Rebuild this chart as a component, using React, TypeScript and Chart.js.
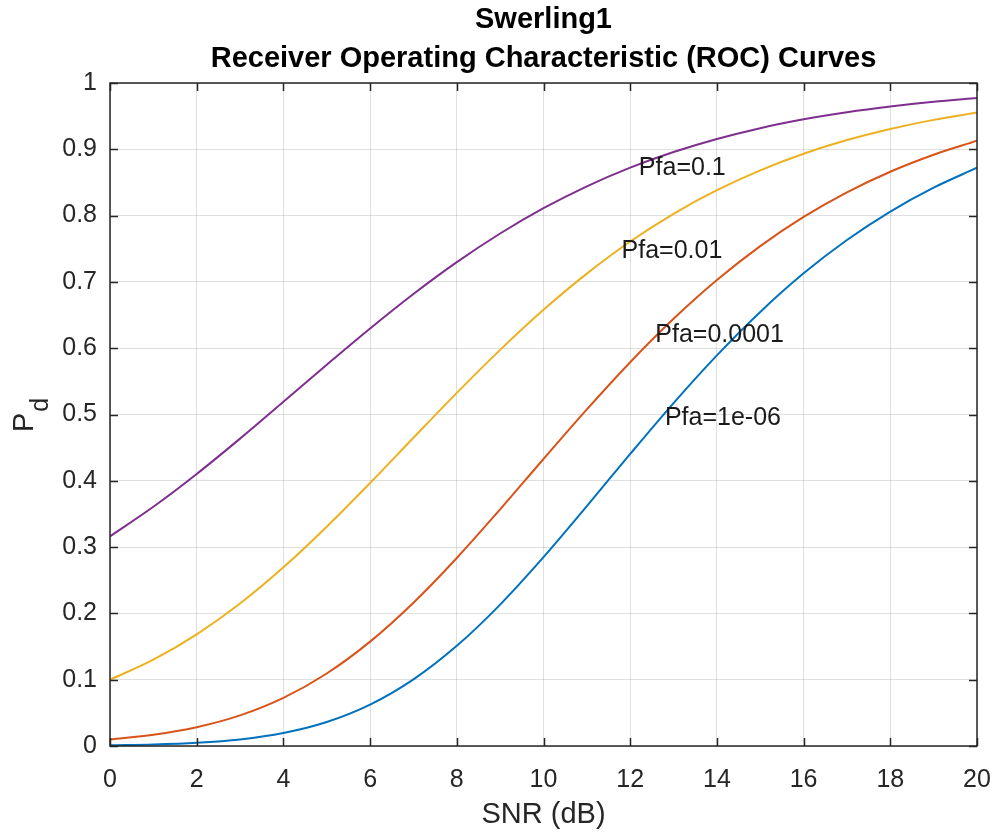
import { useEffect, useRef } from 'react';
import { Chart, registerables } from 'chart.js';

Chart.register(...registerables);

const FONT = '"Liberation Sans", Arial, Helvetica, sans-serif';

// SNR in dB (x values)
const snrDb = [0, 1, 2, 3, 4, 5, 6, 7, 8, 9, 10, 11, 12, 13, 14, 15, 16, 17, 18, 19, 20];

// Probability of detection
const pdPfa1e6 = [0.001, 0.0022, 0.0048, 0.0099, 0.0196, 0.0362, 0.0624, 0.1005, 0.1511, 0.2133, 0.2848, 0.3618, 0.4405, 0.5172, 0.5892, 0.6547, 0.7129, 0.7632, 0.8061, 0.8422, 0.8722];
const pdPfa1e4 = [0.01, 0.017, 0.0284, 0.0462, 0.0726, 0.1094, 0.1574, 0.2161, 0.2836, 0.357, 0.4329, 0.5077, 0.5789, 0.6443, 0.7028, 0.754, 0.798, 0.8351, 0.8662, 0.8918, 0.9129];
const pdPfa1e2 = [0.1, 0.1302, 0.1684, 0.2149, 0.2695, 0.3308, 0.3967, 0.4649, 0.5326, 0.5975, 0.6579, 0.7125, 0.7609, 0.8027, 0.8383, 0.8683, 0.8933, 0.9139, 0.9307, 0.9444, 0.9554];
const pdPfa1e1 = [0.3162, 0.3608, 0.4103, 0.4636, 0.5191, 0.5751, 0.6298, 0.6818, 0.7298, 0.773, 0.8111, 0.8441, 0.8723, 0.8959, 0.9156, 0.9319, 0.9452, 0.956, 0.9647, 0.9718, 0.9775];

const seriesColors = ['#0072BD', '#D95319', '#EDB120', '#7E2F8E'];
const seriesValues = [pdPfa1e6, pdPfa1e4, pdPfa1e2, pdPfa1e1];

// In-plot curve annotations (data coordinates)
const annotationText = ['Pfa=1e-06', 'Pfa=0.0001', 'Pfa=0.01', 'Pfa=0.1'];
const annotationX = [12.8, 12.58, 11.8, 12.2];
const annotationY = [0.494, 0.62, 0.746, 0.872];

const xTickValues = [0, 2, 4, 6, 8, 10, 12, 14, 16, 18, 20];
const yTickValues = [0, 0.1, 0.2, 0.3, 0.4, 0.5, 0.6, 0.7, 0.8, 0.9, 1];

const titleLines = ['Swerling1', 'Receiver Operating Characteristic (ROC) Curves'];
const xLabel = 'SNR (dB)';
const yLabelMain = 'P';
const yLabelSub = 'd';

export default function App() {
  const ref = useRef<HTMLCanvasElement>(null);

  useEffect(() => {
    document.body.style.margin = '0';
    const canvas = ref.current;
    if (!canvas) return;

    const overlay = {
      id: 'matlabOverlay',
      afterDraw(chart: any) {
        const { ctx, chartArea } = chart;
        const { left, right, top, bottom } = chartArea;
        const xs = chart.scales.x;
        const ys = chart.scales.y;
        ctx.save();

        // box
        ctx.strokeStyle = '#262626';
        ctx.lineWidth = 1.5;
        ctx.strokeRect(left, top, right - left, bottom - top);

        // inward ticks
        ctx.beginPath();
        for (const v of xTickValues) {
          const px = Math.round(xs.getPixelForValue(v)) + 0.5;
          ctx.moveTo(px, bottom);
          ctx.lineTo(px, bottom - 8);
          ctx.moveTo(px, top);
          ctx.lineTo(px, top + 8);
        }
        for (const v of yTickValues) {
          const py = Math.round(ys.getPixelForValue(v)) + 0.5;
          ctx.moveTo(left, py);
          ctx.lineTo(left + 8, py);
          ctx.moveTo(right, py);
          ctx.lineTo(right - 8, py);
        }
        ctx.stroke();

        // annotations
        ctx.fillStyle = '#1a1a1a';
        ctx.font = `25px ${FONT}`;
        ctx.textAlign = 'left';
        ctx.textBaseline = 'middle';
        annotationText.forEach((t, i) => {
          ctx.fillText(t, xs.getPixelForValue(annotationX[i]), ys.getPixelForValue(annotationY[i]));
        });

        // title
        const cx = (left + right) / 2;
        ctx.fillStyle = '#000000';
        ctx.font = `bold 29px ${FONT}`;
        ctx.textAlign = 'center';
        ctx.textBaseline = 'alphabetic';
        ctx.fillText(titleLines[0], cx, 28);
        ctx.fillText(titleLines[1], cx, 67);

        // x label
        ctx.fillStyle = '#262626';
        ctx.font = `29px ${FONT}`;
        ctx.textBaseline = 'alphabetic';
        ctx.fillText(xLabel, cx, 823);

        // y label with subscript
        ctx.save();
        ctx.translate(33, (top + bottom) / 2 + 1);
        ctx.rotate(-Math.PI / 2);
        ctx.textAlign = 'left';
        ctx.textBaseline = 'alphabetic';
        ctx.font = `29px ${FONT}`;
        const wP = ctx.measureText(yLabelMain).width;
        ctx.font = `25px ${FONT}`;
        const wD = ctx.measureText(yLabelSub).width;
        const start = -(wP + wD) / 2;
        ctx.font = `29px ${FONT}`;
        ctx.fillText(yLabelMain, start, 0);
        ctx.font = `25px ${FONT}`;
        ctx.fillText(yLabelSub, start + wP + 1, 15);
        ctx.restore();

        ctx.restore();
      },
    };

    const chart = new Chart(canvas, {
      type: 'line',
      data: {
        datasets: seriesValues.map((vals, i) => ({
          label: annotationText[i],
          data: snrDb.map((x, j) => ({ x, y: vals[j] })),
          borderColor: seriesColors[i],
          backgroundColor: seriesColors[i],
          borderWidth: 2,
          pointRadius: 0,
          fill: false,
          cubicInterpolationMode: 'monotone' as const,
        })),
      },
      options: {
        responsive: false,
        animation: false,
        devicePixelRatio: 1,
        layout: { padding: { top: 83, right: 18, left: 0, bottom: 0 } },
        plugins: {
          legend: { display: false },
          title: { display: false },
          tooltip: { enabled: false },
        },
        scales: {
          x: {
            type: 'linear',
            min: 0,
            max: 20,
            afterFit: (s: any) => { s.height = 86; },
            afterBuildTicks: (s: any) => { s.ticks = xTickValues.map((v) => ({ value: v })); },
            border: { display: false },
            grid: {
              color: 'rgba(38,38,38,0.15)',
              lineWidth: 1,
              drawTicks: true,
              tickLength: 19,
              tickColor: 'rgba(0,0,0,0)',
            },
            ticks: {
              color: '#262626',
              font: { family: FONT, size: 25 },
              padding: 0,
              maxRotation: 0,
              callback: (v: any) => String(v),
            },
          },
          y: {
            type: 'linear',
            min: 0,
            max: 1,
            afterFit: (s: any) => { s.width = 110; },
            afterBuildTicks: (s: any) => { s.ticks = yTickValues.map((v) => ({ value: v })); },
            border: { display: false },
            grid: { color: 'rgba(38,38,38,0.15)', lineWidth: 1, drawTicks: false },
            ticks: {
              color: '#262626',
              font: { family: FONT, size: 25 },
              padding: 13,
              callback: (v: any) => String(Math.round(Number(v) * 10) / 10),
            },
          },
        },
      },
      plugins: [overlay],
    });

    return () => chart.destroy();
  }, []);

  return <canvas ref={ref} width={995} height={832} style={{ display: 'block' }} />;
}
